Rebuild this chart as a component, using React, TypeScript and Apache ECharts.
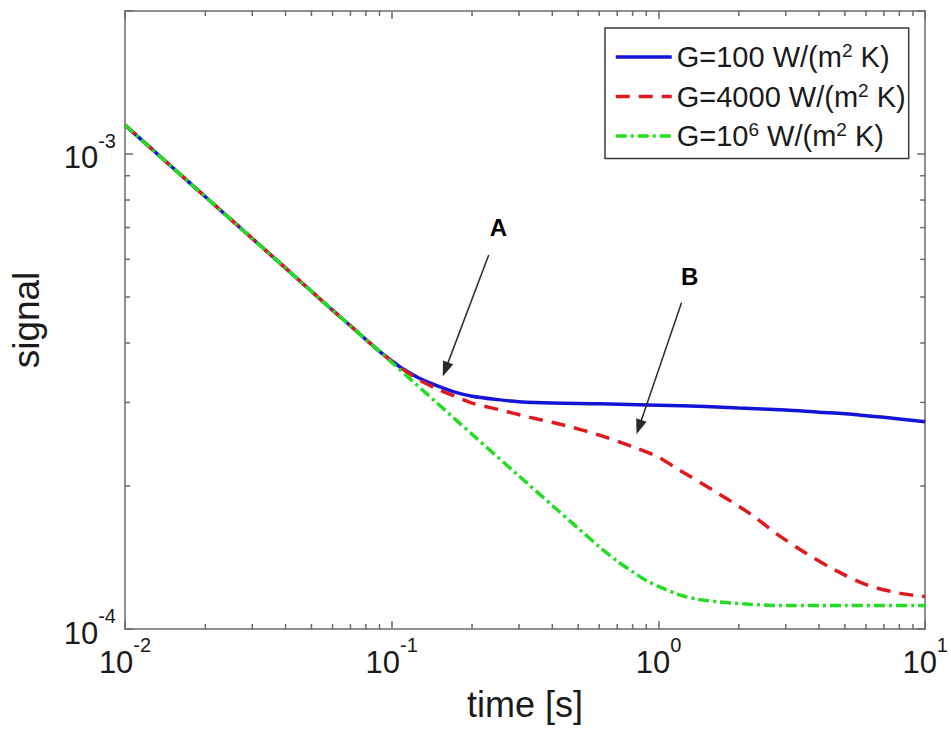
import React, { useEffect, useRef } from 'react';
import * as echarts from 'echarts';

// ---- data ----
const timeBlue = [0.01, 0.015, 0.02, 0.03, 0.04, 0.05, 0.06, 0.07, 0.08, 0.09, 0.1, 0.11, 0.12, 0.13, 0.15, 0.17, 0.2, 0.25, 0.3, 0.4, 0.6, 1, 1.5, 2, 3, 4, 5, 7, 10];
const signalBlue = [1.15e-3, 9.39e-4, 8.13e-4, 6.64e-4, 5.75e-4, 5.14e-4, 4.69e-4, 4.35e-4, 4.07e-4, 3.84e-4, 3.67e-4, 3.53e-4, 3.43e-4, 3.35e-4, 3.24e-4, 3.16e-4, 3.09e-4, 3.04e-4, 3.01e-4, 2.99e-4, 2.98e-4, 2.96e-4, 2.94e-4, 2.92e-4, 2.89e-4, 2.86e-4, 2.84e-4, 2.79e-4, 2.73e-4];

const timeRed = [0.01, 0.015, 0.02, 0.03, 0.04, 0.05, 0.06, 0.07, 0.08, 0.09, 0.1, 0.11, 0.12, 0.13, 0.15, 0.17, 0.2, 0.25, 0.33, 0.45, 0.6, 0.8, 1.0, 1.2, 1.6, 2.2, 2.8, 3.6, 4.6, 6, 8, 10];
const signalRed = [1.15e-3, 9.39e-4, 8.13e-4, 6.64e-4, 5.75e-4, 5.14e-4, 4.69e-4, 4.35e-4, 4.07e-4, 3.84e-4, 3.66e-4, 3.52e-4, 3.41e-4, 3.32e-4, 3.19e-4, 3.10e-4, 2.99e-4, 2.9e-4, 2.79e-4, 2.68e-4, 2.56e-4, 2.42e-4, 2.3e-4, 2.16e-4, 1.96e-4, 1.75e-4, 1.58e-4, 1.44e-4, 1.33e-4, 1.24e-4, 1.19e-4, 1.17e-4];

const timeGreen = [0.01, 0.015, 0.02, 0.03, 0.04, 0.05, 0.06, 0.07, 0.08, 0.09, 0.1, 0.15, 0.2, 0.3, 0.4, 0.5, 0.6, 0.7, 0.8, 0.9, 1.0, 1.2, 1.4, 1.7, 2.2, 3, 5, 10];
const signalGreen = [1.15e-3, 9.39e-4, 8.13e-4, 6.64e-4, 5.75e-4, 5.14e-4, 4.69e-4, 4.35e-4, 4.07e-4, 3.84e-4, 3.64e-4, 2.97e-4, 2.57e-4, 2.1e-4, 1.82e-4, 1.63e-4, 1.49e-4, 1.39e-4, 1.32e-4, 1.265e-4, 1.23e-4, 1.18e-4, 1.155e-4, 1.14e-4, 1.127e-4, 1.12e-4, 1.12e-4, 1.12e-4];

const seriesNames = ['G=100 W/(m2 K)', 'G=4000 W/(m2 K)', 'G=10^6 W/(m2 K)'];
const legendRich = [
  '{t|G=100 W/(m}{s|2}{t| K)}',
  '{t|G=4000 W/(m}{s|2}{t| K)}',
  '{t|G=10}{s|6}{t| W/(m}{s|2}{t| K)}',
];

const xRange = [0.01, 10];
const yRange = [1e-4, 2e-3];
const xMinorTicks = [0.02, 0.03, 0.04, 0.05, 0.06, 0.07, 0.08, 0.09, 0.2, 0.3, 0.4, 0.5, 0.6, 0.7, 0.8, 0.9, 2, 3, 4, 5, 6, 7, 8, 9];
const yMinorTicks = [2e-4, 3e-4, 4e-4, 5e-4, 6e-4, 7e-4, 8e-4, 9e-4];

// annotation arrows (start -> end) and labels, in data coordinates
const arrowA = [[0.231, 6.13e-4], [0.159, 3.52e-4]];
const arrowB = [[1.22, 4.86e-4], [0.845, 2.66e-4]];
const annotationLabels = [
  { name: 'A', coord: [0.251, 6.99e-4] },
  { name: 'B', coord: [1.31, 5.51e-4] },
];

const FONT = 'Liberation Sans, Arial, Helvetica, sans-serif';
const AXIS_COLOR = '#6a6a6a';
const TEXT_COLOR = '#1a1a1a';

function powLabel(v: number): string {
  const l = Math.log10(v);
  const e = Math.round(l);
  if (Math.abs(l - e) > 1e-6) return '';
  return `{b|10}{s|${e}}`;
}

const labelRich = {
  b: { fontSize: 31, fontFamily: FONT, color: TEXT_COLOR, padding: [8, 0, 0, 0] },
  s: { fontSize: 20, fontFamily: FONT, color: TEXT_COLOR, padding: [0, 0, 26, 0] },
};

function zip(a: number[], b: number[]) {
  return a.map((v, i) => [v, b[i]]);
}

export default function App() {
  const ref = useRef<HTMLDivElement>(null);
  useEffect(() => {
    document.body.style.margin = '0';
    if (!ref.current) return;
    const chart = echarts.init(ref.current, undefined, { renderer: 'svg' });
    const tickLine = { lineStyle: { color: AXIS_COLOR, width: 1.5 } };
    const option: any = {
      animation: false,
      backgroundColor: '#ffffff',
      grid: { left: 122, top: 11, right: 24, bottom: 102, containLabel: false },
      legend: {
        data: seriesNames,
        orient: 'vertical',
        left: 605,
        top: 28,
        itemWidth: 56,
        itemHeight: 14,
        itemGap: 9,
        padding: [13, 3, 8, 9],
        borderColor: '#3a3a3a',
        borderWidth: 1.5,
        backgroundColor: '#ffffff',
        itemStyle: { opacity: 0, borderWidth: 0 },
        lineStyle: { width: 3.5 },
        formatter: (name: string) => legendRich[seriesNames.indexOf(name)],
        textStyle: {
          fontFamily: FONT,
          color: TEXT_COLOR,
          rich: {
            t: { fontSize: 29, fontFamily: FONT, color: TEXT_COLOR },
            s: { fontSize: 19, fontFamily: FONT, color: TEXT_COLOR, padding: [0, 0, 13, 0] },
          },
        },
      },
      xAxis: [
        {
          type: 'log',
          logBase: 10,
          min: xRange[0],
          max: xRange[1],
          position: 'bottom',
          axisLine: tickLine,
          axisTick: { inside: true, length: 8, ...tickLine },
          splitLine: { show: false },
          axisLabel: { formatter: powLabel, margin: 6, rich: labelRich, showMinLabel: true, showMaxLabel: true },
          name: 'time [s]',
          nameLocation: 'middle',
          nameGap: 57,
          nameTextStyle: { fontSize: 36, fontFamily: FONT, color: TEXT_COLOR },
        },
        {
          type: 'log',
          logBase: 10,
          min: xRange[0],
          max: xRange[1],
          position: 'top',
          axisLine: tickLine,
          axisTick: { inside: true, length: 8, ...tickLine },
          splitLine: { show: false },
          axisLabel: { show: false },
        },
      ],
      yAxis: [
        {
          type: 'log',
          logBase: 10,
          min: yRange[0],
          max: yRange[1],
          position: 'left',
          axisLine: tickLine,
          axisTick: { inside: true, length: 8, ...tickLine },
          splitLine: { show: false },
          axisLabel: { formatter: powLabel, margin: 9, rich: labelRich },
          name: 'signal',
          nameLocation: 'middle',
          nameGap: 80,
          nameTextStyle: { fontSize: 37, fontFamily: FONT, color: TEXT_COLOR },
        },
        {
          type: 'log',
          logBase: 10,
          min: yRange[0],
          max: yRange[1],
          position: 'right',
          axisLine: tickLine,
          axisTick: { inside: true, length: 8, ...tickLine },
          splitLine: { show: false },
          axisLabel: { show: false },
        },
      ],
      series: [
        {
          name: seriesNames[0],
          type: 'line',
          data: zip(timeBlue, signalBlue),
          smooth: 0.3,
          symbol: 'none',
          lineStyle: { color: '#1414d8', width: 3.5, type: 'solid' },
          itemStyle: { color: '#1414d8' },
          z: 2,
          markLine: {
            silent: true,
            symbol: ['none', 'triangle'],
            symbolSize: [11, 15],
            lineStyle: { color: '#2a2a2a', width: 1.5, type: 'solid' },
            itemStyle: { color: '#111' },
            label: { show: false },
            data: [
              [{ coord: arrowA[0] }, { coord: arrowA[1] }],
              [{ coord: arrowB[0] }, { coord: arrowB[1] }],
            ],
          },
          markPoint: {
            silent: true,
            symbol: 'circle',
            symbolSize: 1,
            itemStyle: { color: 'rgba(0,0,0,0)' },
            label: {
              show: true,
              position: 'inside',
              formatter: '{b}',
              fontSize: 24,
              fontWeight: 'bold',
              fontFamily: FONT,
              color: '#000',
            },
            data: annotationLabels,
          },
        },
        {
          name: seriesNames[1],
          type: 'line',
          data: zip(timeRed, signalRed),
          smooth: 0.3,
          symbol: 'none',
          lineStyle: { color: '#e0191e', width: 3.5, type: [14, 9] },
          itemStyle: { color: '#e0191e' },
          z: 3,
        },
        {
          name: seriesNames[2],
          type: 'line',
          data: zip(timeGreen, signalGreen),
          smooth: 0.3,
          symbol: 'none',
          lineStyle: { color: '#22dd22', width: 3.5, type: [11, 4, 3, 4] },
          itemStyle: { color: '#22dd22' },
          z: 4,
        },
        {
          type: 'custom',
          silent: true,
          clip: false,
          xAxisIndex: 0,
          yAxisIndex: 0,
          data: xMinorTicks.map((v) => [v, 1e-3]),
          renderItem: (params: any, api: any) => {
            const cs = params.coordSys;
            const px = api.coord([api.value(0), api.value(1)])[0];
            const st = { stroke: AXIS_COLOR, lineWidth: 1.5 };
            return {
              type: 'group',
              children: [
                { type: 'line', shape: { x1: px, y1: cs.y + cs.height, x2: px, y2: cs.y + cs.height - 5 }, style: st },
                { type: 'line', shape: { x1: px, y1: cs.y, x2: px, y2: cs.y + 5 }, style: st },
              ],
            };
          },
          z: 5,
        },
        {
          type: 'custom',
          silent: true,
          clip: false,
          xAxisIndex: 0,
          yAxisIndex: 0,
          data: yMinorTicks.map((v) => [0.1, v]),
          renderItem: (params: any, api: any) => {
            const cs = params.coordSys;
            const py = api.coord([api.value(0), api.value(1)])[1];
            const st = { stroke: AXIS_COLOR, lineWidth: 1.5 };
            return {
              type: 'group',
              children: [
                { type: 'line', shape: { x1: cs.x, y1: py, x2: cs.x + 5, y2: py }, style: st },
                { type: 'line', shape: { x1: cs.x + cs.width, y1: py, x2: cs.x + cs.width - 5, y2: py }, style: st },
              ],
            };
          },
          z: 5,
        },
      ],
    };
    chart.setOption(option);
    return () => chart.dispose();
  }, []);
  return <div ref={ref} style={{ width: 951, height: 731 }} />;
}
